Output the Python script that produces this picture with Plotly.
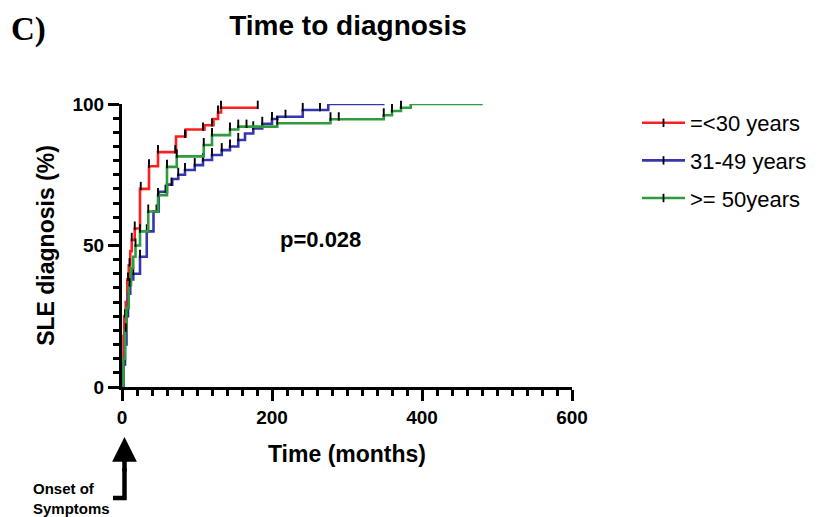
import plotly.graph_objects as go

# ---------------- data ----------------
# cumulative % diagnosed, step times (months) and values after each step
red_name = "=<30 years"
red_t = [0, 1, 2, 3, 5, 7, 9, 11, 13, 17, 24, 36, 48, 72, 85, 110, 122, 128, 132]
red_y = [0, 8, 18, 25, 30, 38, 43, 48, 52, 56, 70, 78, 83, 88.5, 91, 92.5, 94.7, 97, 98.7]
red_end = 181
red_cens = [4, 8, 10, 13, 17, 25, 36, 48, 71, 84, 108, 120, 128, 132, 181]

blue_name = "31-49 years"
blue_t = [0, 2, 4, 6, 8, 11, 15, 24, 33, 42, 49, 60, 67, 75, 84, 97, 108, 120, 133, 144,
          155, 164, 175, 187, 200, 207, 241, 275]
blue_y = [0, 8, 15, 25, 33, 38, 40, 46, 55, 62, 69, 71.5, 73.5, 75, 76.7, 78.4, 80.2, 82,
          83.7, 85, 87.3, 89.6, 91.4, 93, 94.7, 95.5, 97.9, 100]
blue_end = 350
blue_cens = [3, 7, 12, 15, 24, 33, 46, 58, 66, 75, 84, 97, 108, 120, 133, 144, 155, 175,
             187, 200, 218, 241, 264, 275, 350]

green_name = ">= 50years"
green_t = [0, 2, 4, 6, 9, 12, 15, 18, 24, 35, 48, 60, 73, 109, 120, 144, 155, 207, 278,
           349, 360, 372, 385]
green_y = [0, 10, 20, 28, 36, 42, 46, 50, 55, 62, 67.8, 77.8, 81.5, 85.5, 89, 91, 92, 93.2,
           94.6, 96, 97.5, 98.7, 100]
green_end = 481
green_cens = [5, 10, 18, 24, 35, 48, 60, 73, 109, 120, 144, 155, 166, 207, 278, 289, 349,
              360, 372, 385, 481]

x_ticks = [0, 200, 400, 600]
y_ticks = [0, 50, 100]
p_text = "p=0.028"

# ---------------- styling ----------------
FONT = "Liberation Sans, Arial, sans-serif"
series = [
    (red_name, red_t, red_y, red_end, red_cens, "#FF1E1E"),
    (blue_name, blue_t, blue_y, blue_end, blue_cens, "#3535B0"),
    (green_name, green_t, green_y, green_end, green_cens, "#2E9B3C"),
]


def step_value(ts, ys, c):
    v = ys[0]
    for t, y in zip(ts, ys):
        if t <= c:
            v = y
    return v


fig = go.Figure()
for name, ts, ys, end, cens, col in series:
    fig.add_trace(go.Scatter(
        x=ts + [end], y=ys + [ys[-1]], mode="lines", line=dict(color=col, width=2.6, shape="hv"),
        showlegend=False, hoverinfo="skip", cliponaxis=False))
    cy = [step_value(ts, ys, c) + 1.0 for c in cens]
    fig.add_trace(go.Scatter(
        x=cens, y=cy, mode="markers", showlegend=False, cliponaxis=False,
        marker=dict(symbol="line-ns", size=6, line=dict(color="black", width=1.9))))

for i, (name, ts, ys, end, cens, col) in enumerate(series):
    fig.add_trace(go.Scatter(
        x=[None], y=[None], mode="lines+markers", name=name, legendgroup=str(i),
        line=dict(color=col, width=2.6),
        marker=dict(symbol="line-ns", size=6, line=dict(color="black", width=1.8))))

# page body has an 8px margin: figure is placed at (8, 8) in the window
OFF = 8
W, H = 825 - OFF, 517 - OFF
L, R, T, B = 122 - OFF, 253, 104 - OFF, 130
pw, ph = W - L - R, H - T - B


def px2paper_x(px):  # window px -> paper
    return (px - OFF - L) / pw


def px2paper_y(py):
    return (H - B - (py - OFF)) / ph


axis_common = dict(
    showline=True, linecolor="black", linewidth=3, ticks="outside", ticklen=11, tickwidth=3,
    tickcolor="black", showgrid=False, zeroline=False,
    tickfont=dict(family=FONT, size=19, color="black", weight="bold"),
)

fig.update_layout(
    width=W, height=H, margin=dict(l=L, r=R, t=T, b=B, autoexpand=False),
    plot_bgcolor="white", paper_bgcolor="white",
    font=dict(family=FONT, color="black"),
    title=dict(text="Time to diagnosis", x=(348 - OFF) / W, xanchor="center",
               y=1 - (25 - OFF) / H, yanchor="middle",
               font=dict(family=FONT, size=28, color="black", weight="bold")),
    xaxis=dict(range=[0, 600], tickvals=x_ticks,
               minor=dict(dtick=20, ticks="outside", ticklen=6, tickwidth=2.5, tickcolor="black"),
               title=dict(text="Time (months)", standoff=20,
                          font=dict(family=FONT, size=23, color="black", weight="bold")),
               **axis_common),
    yaxis=dict(range=[0, 100], tickvals=y_ticks,
               minor=dict(dtick=5, ticks="outside", ticklen=6, tickwidth=2.5, tickcolor="black"),
               title=dict(text="SLE diagnosis (%)", standoff=12,
                          font=dict(family=FONT, size=23, color="black", weight="bold")),
               **axis_common),
    legend=dict(x=px2paper_x(637), y=px2paper_y(102), xanchor="left", yanchor="top",
                font=dict(family=FONT, size=22, color="black"), tracegroupgap=6,
                itemwidth=43, bgcolor="rgba(0,0,0,0)"),
    showlegend=True,
)

fig.add_annotation(x=264, y=52, xref="x", yref="y", text=p_text, showarrow=False,
                   font=dict(family=FONT, size=22, color="black", weight="bold"))
fig.add_annotation(x=px2paper_x(9), y=px2paper_y(30), xref="paper", yref="paper", text="C)",
                   showarrow=False, xanchor="left", yanchor="middle",
                   font=dict(family="Liberation Serif, Times New Roman, serif", size=33,
                             color="black", weight="bold"))

# onset-of-symptoms arrow
fig.add_annotation(x=px2paper_x(124.5), y=px2paper_y(437), xref="paper", yref="paper",
                   ax=0, ay=36, showarrow=True, arrowhead=2, arrowsize=1.1, arrowwidth=4.5,
                   arrowcolor="black", text="")
fig.add_shape(type="path", xref="paper", yref="paper",
              path=f"M {px2paper_x(113)},{px2paper_y(498)} L {px2paper_x(124.5)},{px2paper_y(498)} "
                   f"L {px2paper_x(124.5)},{px2paper_y(468)}",
              line=dict(color="black", width=4.5))
fig.add_annotation(x=px2paper_x(31), y=px2paper_y(498), xref="paper", yref="paper",
                   text="Onset of<br>Symptoms", showarrow=False, xanchor="left", yanchor="middle",
                   align="left", font=dict(family=FONT, size=15, color="black", weight="bold"))

fig.write_html("out.html")
